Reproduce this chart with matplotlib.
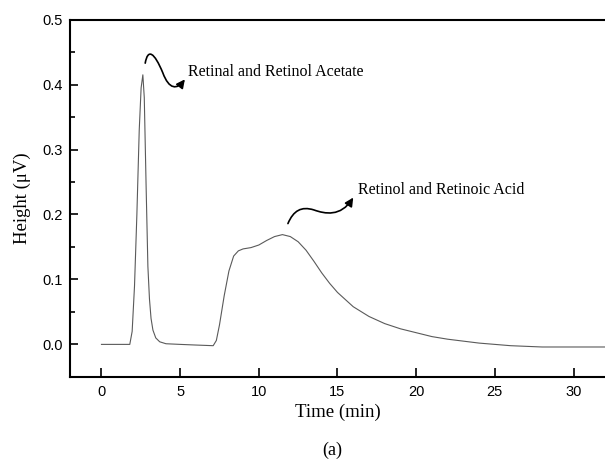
import numpy as np
import matplotlib.pyplot as plt
from matplotlib.path import Path
from matplotlib.patches import FancyArrowPatch
from matplotlib.ticker import MultipleLocator

# -------------------
# Chromatogram
# -------------------
time_min = [0, 1.8, 1.95, 2.1, 2.25, 2.4, 2.52, 2.63, 2.72, 2.84, 2.95, 3.05,
            3.15, 3.27, 3.45, 3.7, 4.1, 5.0, 6.0, 7.1, 7.3, 7.5, 7.8, 8.1,
            8.4, 8.7, 9.0, 9.5, 10.0, 10.5, 11.0, 11.5, 12.0, 12.5, 13.0,
            13.5, 14.0, 14.5, 15.0, 16.0, 17.0, 18.0, 19.0, 20.0, 21.0, 22.0,
            23.0, 24.0, 25.0, 26.0, 28.0, 30.0, 32.0]
height_uv = [0, 0, 0.02, 0.09, 0.2, 0.33, 0.395, 0.415, 0.38, 0.24, 0.12, 0.07,
             0.04, 0.022, 0.01, 0.004, 0.001, 0, -0.001, -0.002, 0.006, 0.03,
             0.075, 0.113, 0.136, 0.144, 0.147, 0.149, 0.153, 0.16, 0.166,
             0.169, 0.166, 0.158, 0.145, 0.128, 0.11, 0.094, 0.08, 0.058,
             0.043, 0.032, 0.024, 0.018, 0.012, 0.008, 0.005, 0.002, 0.0,
             -0.002, -0.004, -0.004, -0.004]

peak_labels = ["Retinal and Retinol Acetate", "Retinol and Retinoic Acid"]
label_xy = [(5.5, 0.42), (16.3, 0.237)]

# -------------------
# Figure
# -------------------
fig = plt.figure(figsize=(6.05, 4.67), dpi=100)
ax = fig.add_axes([0.1157, 0.193, 0.8843, 0.765])

ax.plot(time_min, height_uv, color="#5a5a5a", lw=0.8)

ax.set_xlim(-2, 32)
ax.set_ylim(-0.05, 0.5)
ax.xaxis.set_major_locator(MultipleLocator(5))
ax.yaxis.set_major_locator(MultipleLocator(0.1))
ax.yaxis.set_minor_locator(MultipleLocator(0.05))
ax.yaxis.set_major_formatter(plt.FormatStrFormatter("%.1f"))

ax.tick_params(which="both", direction="in", width=1.2, labelsize=10.5)
ax.tick_params(axis="x", which="major", length=6.5, pad=6)
ax.tick_params(axis="y", which="major", length=5.5, pad=5)
ax.tick_params(axis="y", which="minor", length=3.5)
for lbl in ax.get_xticklabels() + ax.get_yticklabels():
    lbl.set_fontfamily("Liberation Sans")

for side in ["left", "bottom", "top"]:
    ax.spines[side].set_linewidth(1.5)
ax.spines["right"].set_visible(False)

ax.set_xlabel("Time (min)", fontfamily="Liberation Serif", fontsize=13.5, labelpad=3)
ax.set_ylabel("Height (\u03bcV)", fontfamily="Liberation Serif", fontsize=13.5, labelpad=8)

# wavy arrows pointing at the peak labels
squiggles = [
    [(2.78, 0.433), (2.95, 0.456), (3.35, 0.45), (3.9, 0.418),
     (4.3, 0.392), (4.8, 0.392), (5.3, 0.408)],
    [(11.85, 0.186), (12.2, 0.206), (12.7, 0.213), (13.5, 0.207),
     (14.2, 0.201), (15.2, 0.196), (16.0, 0.226)],
]
codes = [Path.MOVETO] + [Path.CURVE4] * 6
for pts in squiggles:
    arrow = FancyArrowPatch(path=Path(pts, codes), arrowstyle="-|>,head_length=5,head_width=2.5",
                            color="black", lw=1.2, transform=ax.transData)
    ax.add_patch(arrow)

for txt, (tx, ty) in zip(peak_labels, label_xy):
    ax.text(tx, ty, txt, fontfamily="Liberation Serif", fontsize=11.5, va="center", ha="left")

fig.text(0.549, 0.017, "(a)", fontfamily="Liberation Serif", fontsize=13, ha="center", va="bottom")

fig.savefig("out.png", dpi=100)
